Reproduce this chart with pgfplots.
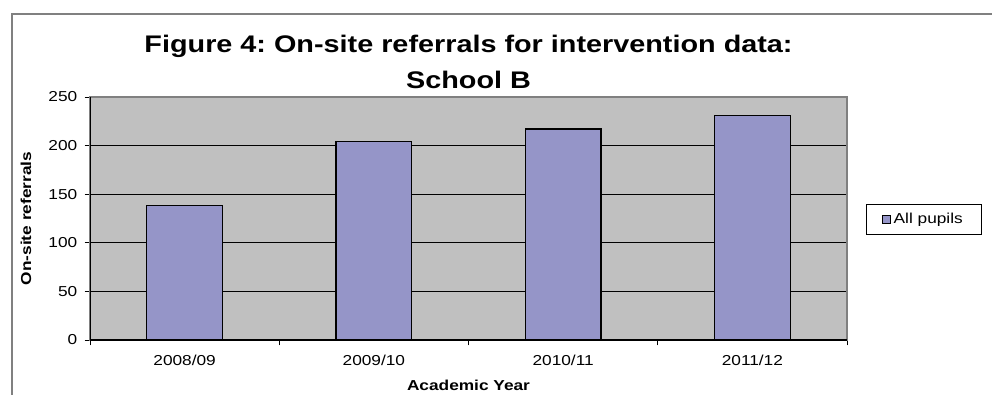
\documentclass[border=0pt]{standalone}
\usepackage{fontspec}
\setmainfont{Liberation Sans}[FakeStretch=1.2]
\usepackage{pgfplots}
\pgfplotsset{compat=1.18}
\definecolor{plotbg}{HTML}{C0C0C0}
\definecolor{barfill}{HTML}{9595C8}
\definecolor{framegray}{HTML}{808080}
\frenchspacing
\begin{document}
\begin{tikzpicture}
\path[use as bounding box] (0,0) rectangle (744pt,295.5pt);
\fill[white] (0,0) rectangle (744pt,295.5pt);
\draw[framegray, line width=1.6pt] (9pt,-1pt) -- (9pt,285pt) -- (745pt,285pt);
\node[font=\fontsize{18}{21}\selectfont\bfseries] at (351.4pt,260.5pt) {Figure 4: On-site referrals for intervention data:};
\node[font=\fontsize{18}{21}\selectfont\bfseries] at (351.4pt,235.5pt) {School B};
\begin{axis}[
  at={(67.5pt,40.5pt)}, anchor=south west, scale only axis,
  width=567.75pt, height=182.25pt,
  xmin=-0.5, xmax=3.5, ymin=0, ymax=250,
  xtick={0,1,2,3}, xticklabels={2008/09,2009/10,2010/11,2011/12},
  minor xtick={-0.5,0.5,1.5,2.5,3.5},
  major x tick style={draw=none},
  ytick={0,50,100,150,200,250},
  tick align=outside, tick pos=left,
  major tick length=4pt, minor tick length=4pt,
  tick style={black, line width=0.6pt},
  ymajorgrids, grid style={black, line width=0.6pt},
  axis background/.style={fill=plotbg},
  axis line style={framegray, line width=1.2pt},
  /pgf/number format/assume math mode=true,
  tick label style={font=\fontsize{10.8}{12}\selectfont},
  xticklabel style={yshift=-3.5pt},
  yticklabel style={xshift=-2pt},
  xlabel={Academic Year}, ylabel={On-site referrals},
  label style={font=\fontsize{10.8}{12}\selectfont\bfseries},
  xlabel style={at={(axis description cs:0.5,0)}, anchor=center, yshift=-34pt},
  ylabel style={at={(axis description cs:-0.0845,0.5)}, anchor=center},
  legend style={at={(1.025,0.496)}, anchor=west, draw=black, fill=white,
    font=\fontsize{10.8}{12}\selectfont, inner xsep=12pt, inner ysep=4.5pt},
  legend image code/.code={\draw[#1, line width=0.6pt] (0pt,-3pt) rectangle (6pt,3pt);},
]
\addplot[ybar, bar width=0.4, fill=barfill, draw=black, line width=0.9pt]
  coordinates {(0,138) (1,204) (2,217) (3,231)};
\addlegendentry{All pupils}
\draw[black, line width=0.8pt] (rel axis cs:0,1) -- (rel axis cs:0,0) -- (rel axis cs:1,0);
\end{axis}
\end{tikzpicture}
\end{document}
